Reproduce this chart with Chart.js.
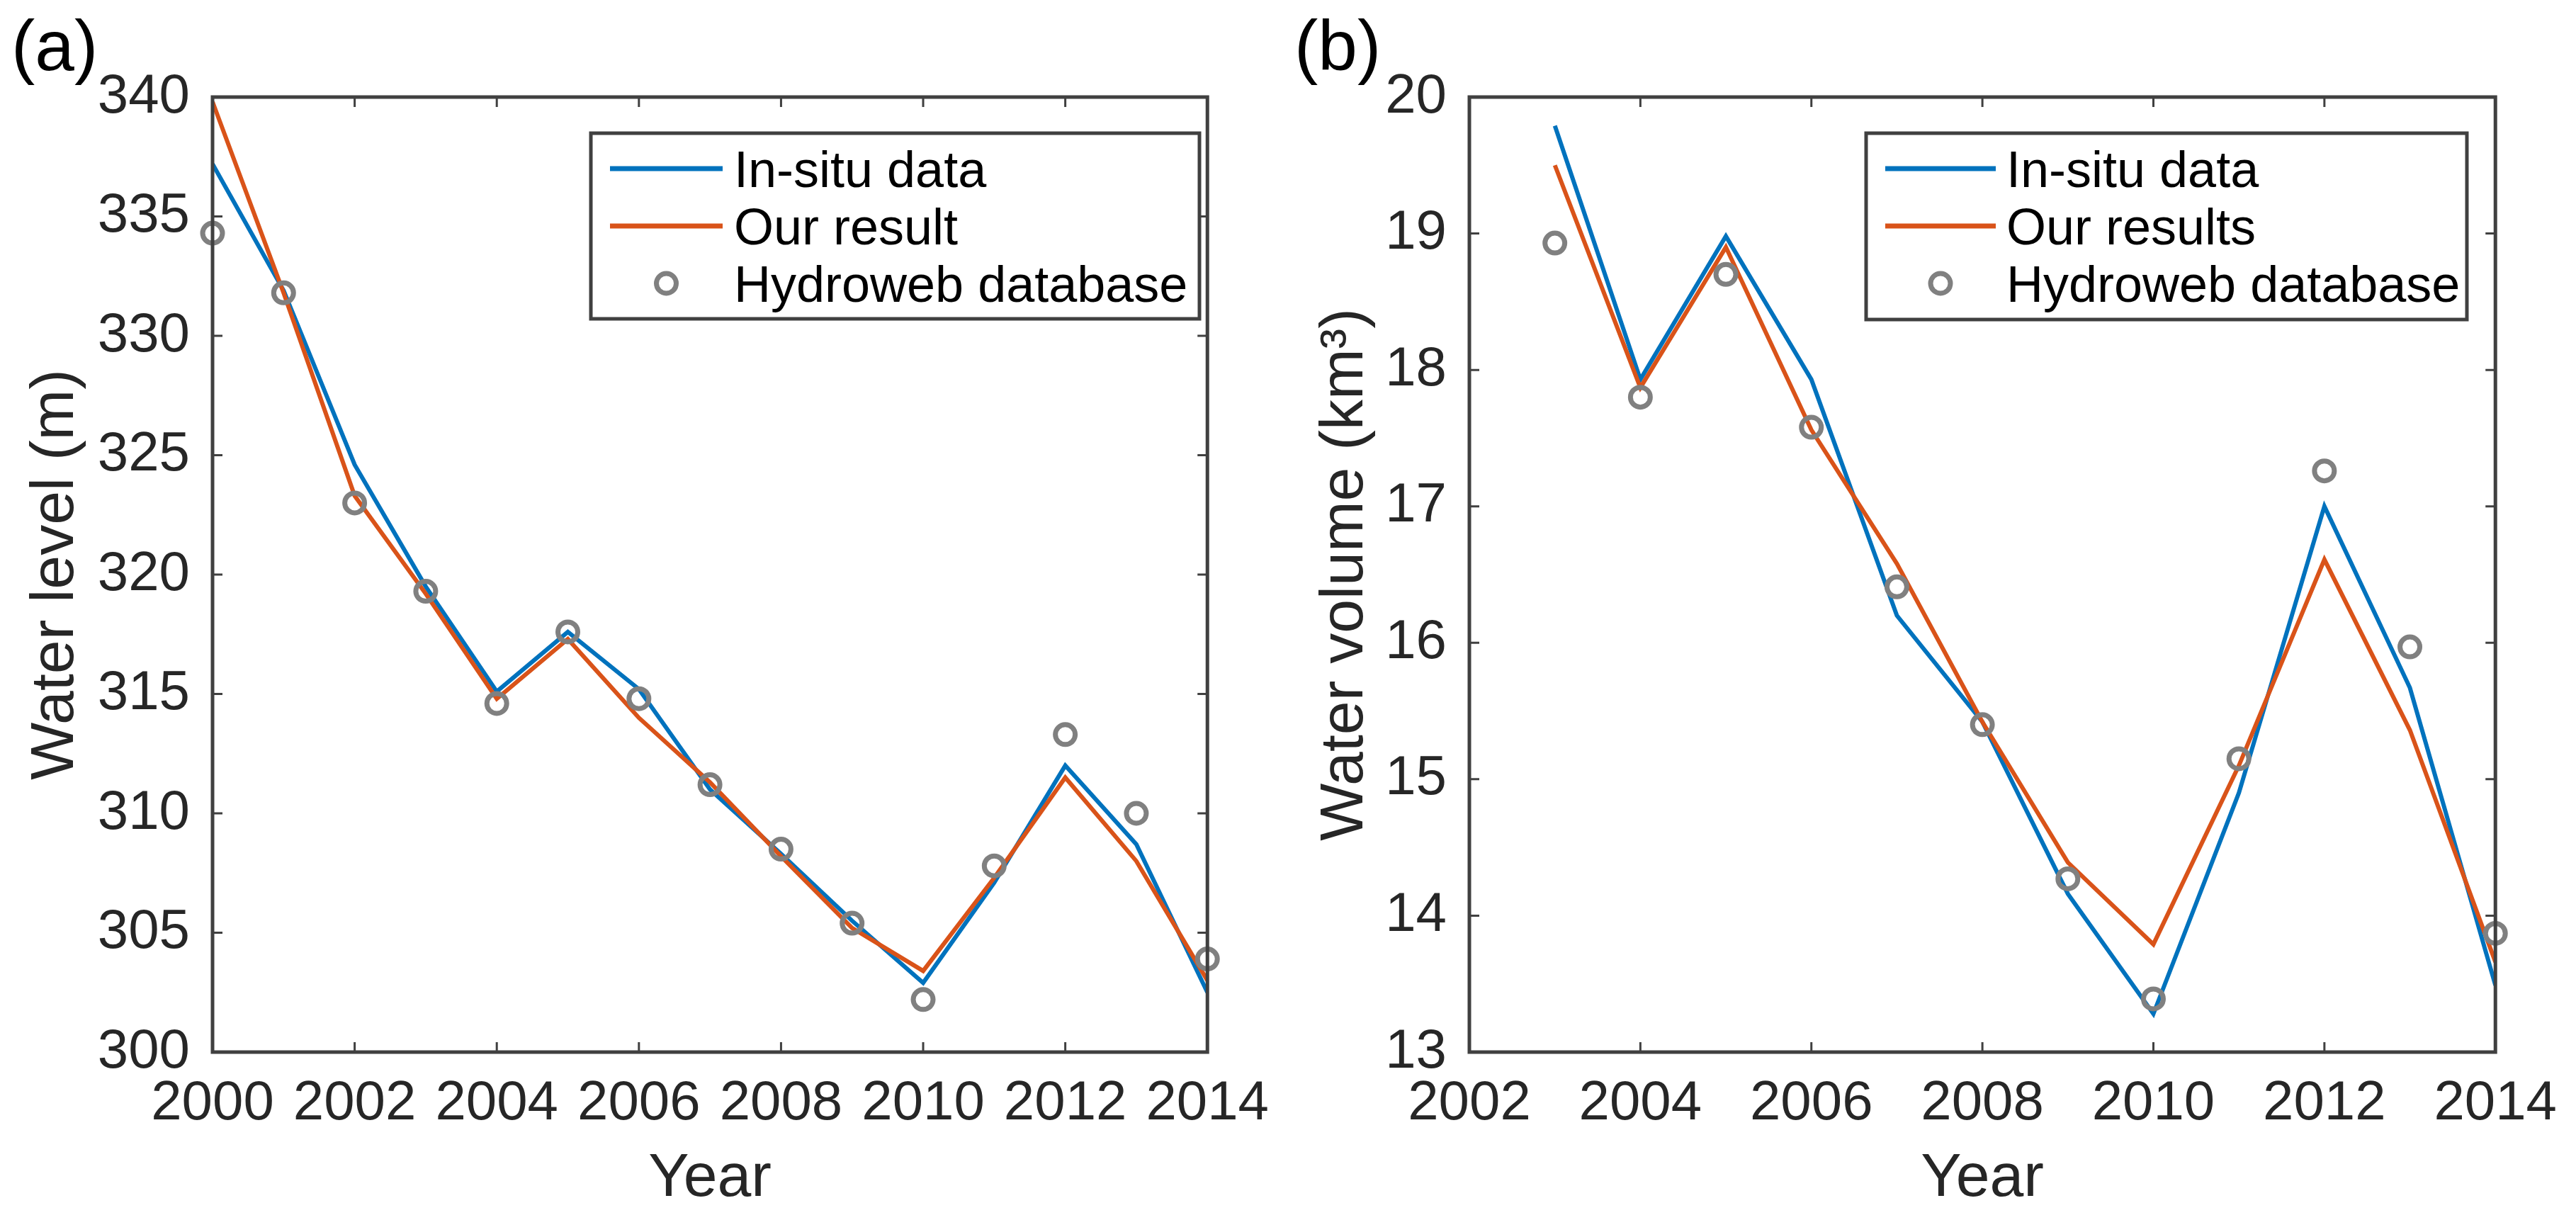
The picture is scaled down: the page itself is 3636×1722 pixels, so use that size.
<!DOCTYPE html>
<html>
<head>
<meta charset="utf-8">
<script src="https://cdn.jsdelivr.net/npm/chart.js@4.4.1/dist/chart.umd.min.js"></script>
<style>
  html, body { margin: 0; padding: 0; background: #ffffff; }
  body { width: 3636px; height: 1722px; position: relative; overflow: hidden; }
  .panel { position: absolute; top: 0; width: 1818px; height: 1722px; }
  .tag { position: absolute; font-family: "Liberation Sans", Arial, Helvetica, sans-serif; font-size: 100px; line-height: 1; color: #000; top: 14px; }
</style>
</head>
<body>
<div class="panel" style="left:0"><canvas id="ca" width="1818" height="1722"></canvas></div>
<div class="panel" style="left:1818px"><canvas id="cb" width="1818" height="1722"></canvas></div>
<div class="tag" style="left:16px">(a)</div>
<div class="tag" style="left:1827px">(b)</div>
<script>
// ---------- data ----------
const yearsA = [2000, 2001, 2002, 2003, 2004, 2005, 2006, 2007, 2008, 2009, 2010, 2011, 2012, 2013, 2014];
const insituA = [337.2, 331.9, 324.6, 319.5, 315.1, 317.6, 315.2, 311.0, 308.3, 305.5, 302.9, 307.1, 312.0, 308.7, 302.5];
const resultA = [339.8, 331.8, 323.3, 319.2, 314.8, 317.3, 314.0, 311.3, 308.2, 305.2, 303.4, 307.3, 311.5, 308.0, 303.0];
const hydroA  = [334.3, 331.8, 323.0, 319.3, 314.6, 317.6, 314.8, 311.2, 308.5, 305.4, 302.2, 307.8, 313.3, 310.0, 303.9];
const xTicksA = [2000, 2002, 2004, 2006, 2008, 2010, 2012, 2014];
const yTicksA = [300, 305, 310, 315, 320, 325, 330, 335, 340];

const yearsB = [2003, 2004, 2005, 2006, 2007, 2008, 2009, 2010, 2011, 2012, 2013, 2014];
const insituB = [19.79, 17.93, 18.98, 17.93, 16.20, 15.42, 14.16, 13.28, 14.90, 17.00, 15.67, 13.49];
const resultB = [19.50, 17.87, 18.90, 17.56, 16.58, 15.42, 14.39, 13.79, 15.10, 16.61, 15.36, 13.66];
const hydroB  = [18.93, 17.80, 18.70, 17.58, 16.41, 15.40, 14.27, 13.39, 15.15, 17.26, 15.97, 13.87];
const xTicksB = [2002, 2004, 2006, 2008, 2010, 2012, 2014];
const yTicksB = [13, 14, 15, 16, 17, 18, 19, 20];

const labelsA = ['In-situ data', 'Our result', 'Hydroweb database'];
const labelsB = ['In-situ data', 'Our results', 'Hydroweb database'];

// ---------- styling ----------
const FONT = '"Liberation Sans", Arial, Helvetica, sans-serif';
const BLUE = '#0072BD', ORANGE = '#D95319', GRAY = '#808080';
const AXIS = '#404040', TEXT = '#262626';

function pts(xs, ys) { return xs.map((x, i) => ({x: x, y: ys[i]})); }

const boxPlugin = {
  id: 'matlabBox',
  afterDatasetsDraw(chart, args, opts) {
    const {ctx, chartArea: a} = chart;
    const xs = chart.scales.x, ys = chart.scales.y;
    ctx.save();
    ctx.strokeStyle = AXIS;
    ctx.lineWidth = 3;
    const tl = 14;
    ctx.beginPath();
    xs.ticks.forEach(t => {
      const px = xs.getPixelForValue(t.value);
      ctx.moveTo(px, a.bottom); ctx.lineTo(px, a.bottom - tl);
      ctx.moveTo(px, a.top); ctx.lineTo(px, a.top + tl);
    });
    ys.ticks.forEach(t => {
      const py = ys.getPixelForValue(t.value);
      ctx.moveTo(a.left, py); ctx.lineTo(a.left + tl, py);
      ctx.moveTo(a.right, py); ctx.lineTo(a.right - tl, py);
    });
    ctx.stroke();
    ctx.lineWidth = 5;
    ctx.strokeRect(a.left, a.top, a.right - a.left, a.bottom - a.top);
    ctx.restore();
  },
  afterDraw(chart, args, opts) {
    // legend box
    const {ctx} = chart;
    const L = opts;
    ctx.save();
    ctx.fillStyle = '#ffffff';
    ctx.fillRect(L.x0, L.y0, L.x1 - L.x0, L.y1 - L.y0);
    ctx.strokeStyle = AXIS;
    ctx.lineWidth = 5;
    ctx.strokeRect(L.x0, L.y0, L.x1 - L.x0, L.y1 - L.y0);
    const fs = 72;
    ctx.font = fs + 'px ' + FONT;
    ctx.textBaseline = 'alphabetic';
    ctx.textAlign = 'left';
    chart.data.datasets.forEach((ds, i) => {
      const ry = L.rows[i];
      if (ds.showLine === false) {
        ctx.beginPath();
        ctx.strokeStyle = ds.borderColor;
        ctx.lineWidth = ds.borderWidth;
        ctx.arc((L.lx0 + L.lx1) / 2, ry, ds.pointRadius, 0, Math.PI * 2);
        ctx.stroke();
      } else {
        ctx.beginPath();
        ctx.strokeStyle = ds.borderColor;
        ctx.lineWidth = 7;
        ctx.moveTo(L.lx0, ry); ctx.lineTo(L.lx1, ry);
        ctx.stroke();
      }
      ctx.fillStyle = '#000000';
      ctx.fillText(ds.label, L.tx, ry + fs * 0.716 / 2);
    });
    ctx.restore();
  }
};

function makeChart(id, years, ins, res, hyd, labels, xmin, xmax, xstep, ymin, ymax, ystep, ytitle, yAxisW, padRight, titlePad, legend) {
  return new Chart(document.getElementById(id), {
    type: 'line',
    data: {
      datasets: [
        {label: labels[0], data: pts(years, ins), borderColor: BLUE, backgroundColor: BLUE, borderWidth: 6, pointRadius: 0, tension: 0, order: 2},
        {label: labels[1], data: pts(years, res), borderColor: ORANGE, backgroundColor: ORANGE, borderWidth: 6, pointRadius: 0, tension: 0, order: 1},
        {label: labels[2], data: pts(years, hyd), showLine: false, borderColor: GRAY, backgroundColor: 'rgba(0,0,0,0)', borderWidth: 7, pointRadius: 14, pointBorderWidth: 7, pointStyle: 'circle', clip: false, order: 0}
      ]
    },
    options: {
      responsive: false,
      devicePixelRatio: 1,
      animation: false,
      events: [],
      layout: {padding: {left: 0, right: padRight, top: 137, bottom: 0}},
      plugins: {legend: {display: false}, tooltip: {enabled: false}, matlabBox: legend},
      scales: {
        x: {
          type: 'linear', min: xmin, max: xmax,
          grid: {display: false, drawTicks: false},
          border: {display: false},
          ticks: {stepSize: xstep, padding: 27, color: TEXT, font: {family: FONT, size: 78}, maxRotation: 0, autoSkip: false, callback: v => String(v)},
          title: {display: true, text: 'Year', color: TEXT, font: {family: FONT, size: 86}, padding: {top: 0, bottom: 6}},
          afterFit: s => { s.height = 237; }
        },
        y: {
          type: 'linear', min: ymin, max: ymax,
          grid: {display: false, drawTicks: false},
          border: {display: false},
          ticks: {stepSize: ystep, padding: 32, color: TEXT, font: {family: FONT, size: 78}, autoSkip: false, callback: v => String(v)},
          title: {display: true, text: ytitle, color: TEXT, font: {family: FONT, size: 86}, padding: {top: titlePad, bottom: 0}},
          afterFit: s => { s.width = yAxisW; }
        }
      }
    },
    plugins: [boxPlugin]
  });
}

makeChart('ca', yearsA, insituA, resultA, hydroA, labelsA,
  xTicksA[0], xTicksA[xTicksA.length - 1], 2,
  yTicksA[0], yTicksA[yTicksA.length - 1], 5,
  'Water level (m)', 300, 80, 28,
  {x0: 834, y0: 188, x1: 1693, y1: 450, rows: [238, 319, 400], lx0: 861, lx1: 1020, tx: 1036});

makeChart('cb', yearsB, insituB, resultB, hydroB, labelsB,
  xTicksB[0], xTicksB[xTicksB.length - 1], 2,
  yTicksB[0], yTicksB[yTicksB.length - 1], 1,
  'Water volume (km\u00B3)', 256, 108, 30,
  {x0: 816, y0: 188, x1: 1664, y1: 451, rows: [238, 319, 400], lx0: 843, lx1: 999, tx: 1014});
</script>
</body>
</html>
